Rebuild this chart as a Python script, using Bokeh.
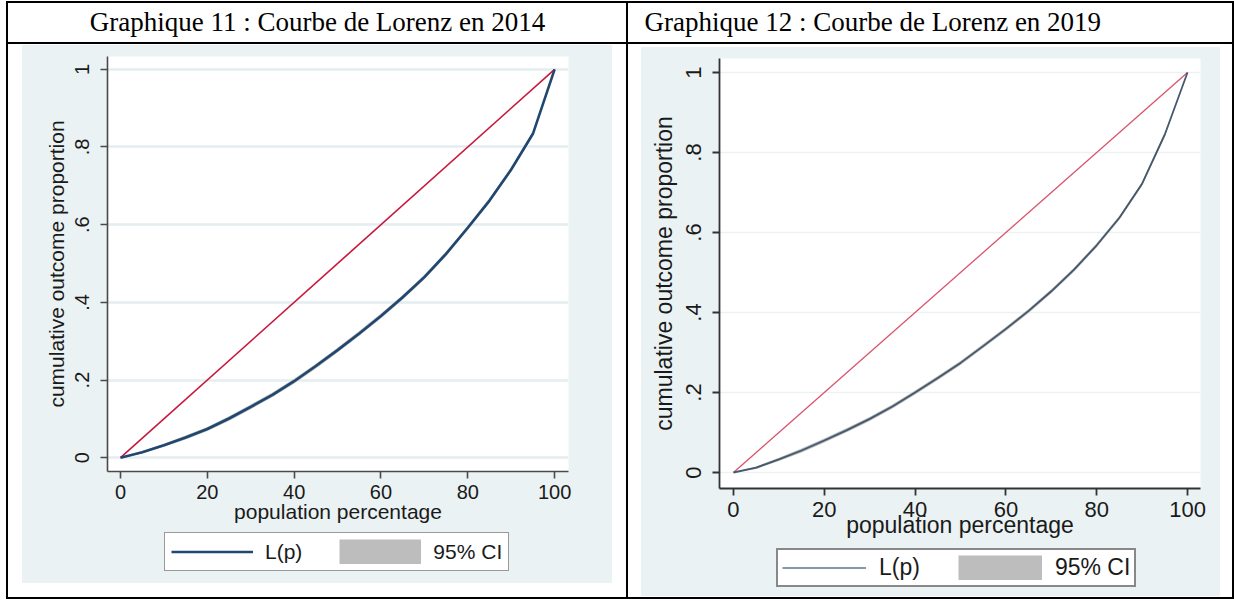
from bokeh.plotting import figure
from bokeh.models import Range1d, FixedTicker, Legend, LegendItem, Label, Div
from bokeh.layouts import column, row
from bokeh.embed import file_html
from bokeh.resources import INLINE

# ---------------- data ----------------
pop_pct = [0, 5, 10, 15, 20, 25, 30, 35, 40, 45, 50, 55, 60, 65, 70, 75, 80, 85, 90, 95, 100]

lorenz_2014 = [0, .014, .032, .052, .074, .101, .131, .162, .197, .236, .277, .320, .365, .413, .465, .525, .592, .662, .742, .834, 1]
ci_low_2014 = [0, .011, .028, .047, .069, .095, .125, .156, .191, .230, .271, .314, .359, .407, .459, .519, .586, .656, .736, .828, 1]
ci_high_2014 = [0, .017, .036, .057, .079, .107, .137, .168, .203, .242, .283, .326, .371, .419, .471, .531, .598, .668, .748, .840, 1]

lorenz_2019 = [0, .012, .033, .055, .080, .106, .134, .165, .200, .236, .274, .316, .359, .404, .453, .507, .568, .637, .722, .845, 1]
ci_low_2019 = [0, .009, .029, .050, .075, .101, .129, .160, .195, .231, .269, .311, .354, .399, .448, .502, .563, .632, .717, .840, 1]
ci_high_2019 = [0, .015, .037, .060, .085, .111, .139, .170, .205, .241, .279, .321, .364, .409, .458, .512, .573, .642, .727, .850, 1]

equality_x = [0, 100]
equality_y = [0, 1]

x_ticks = [0, 20, 40, 60, 80, 100]
y_ticks = [0, 0.2, 0.4, 0.6, 0.8, 1]
y_tick_labels = ["0", ".2", ".4", ".6", ".8", "1"]

titles = ["Graphique 11 : Courbe de Lorenz en 2014", "Graphique 12 : Courbe de Lorenz en 2019"]
x_title = "population percentage"
y_title = "cumulative outcome proportion"
legend_labels = ["L(p)", "95% CI"]

GREY = "#eaf2f3"
SANS = "Liberation Sans"
SERIF = "Liberation Serif"


def block(w, h, color):
    return Div(width=w, height=h, margin=0, styles={"background-color": color})


def header(text, w, h, align):
    p = figure(width=w, height=h, x_range=Range1d(0, 1), y_range=Range1d(0, 1),
               toolbar_location=None, output_backend="svg", min_border=0, title=None,
               outline_line_color=None, x_axis_type=None, y_axis_type=None,
               background_fill_color="white", border_fill_color="white")
    x = w / 2 if align == "center" else 16
    p.add_layout(Label(x=x, y=h / 2 + 1, x_units="screen", y_units="screen", text=text,
                       text_align=align, text_baseline="middle", text_font=SERIF,
                       text_font_size="27px", text_color="black"))
    return p


def chart(cfg, lor, lo, hi):
    p = figure(frame_width=cfg["fw"], frame_height=cfg["fh"],
               x_range=Range1d(*cfg["xr"]), y_range=Range1d(*cfg["yr"]),
               toolbar_location=None, output_backend="svg", title=None,
               min_border_left=cfg["bl"], min_border_right=cfg["br"],
               min_border_top=cfg["bt"], min_border_bottom=cfg["bb"],
               background_fill_color="white", border_fill_color=GREY,
               outline_line_color=None, margin=0)
    # grid
    p.xgrid.visible = False
    p.ygrid.ticker = FixedTicker(ticks=y_ticks)
    p.ygrid.grid_line_color = cfg["grid_color"]
    p.ygrid.grid_line_width = cfg["grid_w"]

    # axes
    p.xaxis.ticker = FixedTicker(ticks=x_ticks)
    p.yaxis.ticker = FixedTicker(ticks=y_ticks)
    p.yaxis.major_label_overrides = {v: s for v, s in zip(y_ticks, y_tick_labels)}
    p.yaxis.major_label_orientation = "vertical"
    for ax in (p.xaxis[0], p.yaxis[0]):
        ax.axis_line_color = cfg["axis_color"]
        ax.axis_line_width = cfg["axis_w"]
        ax.major_tick_line_color = cfg["axis_color"]
        ax.major_tick_line_width = cfg["axis_w"]
        ax.major_tick_out = 7
        ax.major_tick_in = 0
        ax.minor_tick_line_color = None
        ax.major_label_text_font = SANS
        ax.major_label_text_font_size = cfg["tick_fs"]
        ax.major_label_text_color = "#1a1a1a"
        ax.axis_label_text_font = SANS
        ax.axis_label_text_font_size = cfg["title_fs"]
        ax.axis_label_text_font_style = "normal"
        ax.axis_label_text_color = "#1a1a1a"
    p.xaxis.axis_label = x_title
    p.yaxis.axis_label = y_title
    p.xaxis.major_label_standoff = cfg["xstand"]
    p.yaxis.major_label_standoff = cfg["ystand"]
    p.xaxis.axis_label_standoff = cfg["xtstand"]
    p.yaxis.axis_label_standoff = cfg["ytstand"]

    # glyphs
    p.varea(x=pop_pct, y1=lo, y2=hi, fill_color="#b8b8b8")
    p.line(equality_x, equality_y, line_color=cfg["red"], line_width=cfg["red_w"])
    p.line(pop_pct, lor, line_color=cfg["curve"], line_width=cfg["curve_w"])
    return p


def legend_strip(cfg, lor, hi):
    # strip below the chart holding the legend; its data lies outside the strip's ranges
    q = figure(width=cfg["w"], height=cfg["lh"], x_range=Range1d(200, 300), y_range=Range1d(0, 1),
               toolbar_location=None, output_backend="svg", min_border=0, title=None,
               outline_line_color=None, x_axis_type=None, y_axis_type=None,
               background_fill_color=GREY, border_fill_color=GREY, margin=0)
    r_curve = q.line(pop_pct, lor, line_color=cfg["key_curve"], line_width=cfg["key_curve_w"])
    r_ci = q.line(pop_pct, hi, line_color="#bdbdbd", line_width=cfg["key_h"], line_cap="butt")
    leg = Legend(items=[LegendItem(label=legend_labels[0], renderers=[r_curve]),
                        LegendItem(label=legend_labels[1], renderers=[r_ci])],
                 location=cfg["leg_loc"], orientation="horizontal",
                 glyph_width=cfg["glyph_w"], glyph_height=cfg["key_h"],
                 label_height=cfg["key_h"],
                 label_standoff=cfg["leg_stand"], spacing=cfg["leg_spacing"],
                 padding=cfg["leg_pad"], margin=0,
                 label_text_font=SANS, label_text_font_size=cfg["leg_fs"],
                 label_text_color="#1a1a1a",
                 border_line_color=cfg["leg_border"], border_line_width=cfg["leg_bw"],
                 background_fill_color="white", background_fill_alpha=1.0)
    q.add_layout(leg)
    return q


cfg_left = dict(w=590, fw=461, fh=415, xr=(-3.0, 103.2), yr=(-0.0355, 1.033),
                bl=85, br=44, bt=11, bb=60, lh=52, cell_margin=(1, 14, 14, 14),
                grid_color="#e4edef", grid_w=2.5, axis_color="#4a4a4a", axis_w=1.6,
                tick_fs="20px", title_fs="21px", xstand=6, ystand=11, xtstand=-2, ytstand=5,
                red="#c8173d", red_w=1.6, curve="#1f4770", curve_w=2.6,
                key_curve="#1f4770", key_curve_w=2.6,
                key_h=25, glyph_w=82, leg_loc=(57, 12), leg_stand=12, leg_spacing=37,
                leg_pad=6, leg_fs="21px", leg_border="#333333", leg_bw=1.5)

cfg_right = dict(w=579, fw=481, fh=430, xr=(-3.08, 102.86), yr=(-0.04, 1.035),
                 bl=78, br=20, bt=11, bb=60, lh=48, cell_margin=(3, 12, 1, 13),
                 grid_color="#eef1f2", grid_w=1.5, axis_color="#333333", axis_w=1.8,
                 tick_fs="22px", title_fs="23px", xstand=6, ystand=12, xtstand=-8, ytstand=6,
                 red="#d8546e", red_w=1.3, curve="#45596e", curve_w=1.8,
                 key_curve="#5d7791", key_curve_w=1.5,
                 key_h=25, glyph_w=84, leg_loc=(57, 9), leg_stand=13, leg_spacing=38,
                 leg_pad=4, leg_fs="23px", leg_border="#111111", leg_bw=2)


def cell(cfg, lor, lo, hi):
    return column(chart(cfg, lor, lo, hi), legend_strip(cfg, lor, hi),
                  spacing=0, margin=cfg["cell_margin"], styles={"background-color": GREY})


h1 = header(titles[0], 618, 39, "center")
h2 = header(titles[1], 604, 39, "left")
c1 = cell(cfg_left, lorenz_2014, ci_low_2014, ci_high_2014)
c2 = cell(cfg_right, lorenz_2019, ci_low_2019, ci_high_2019)

table = column(
    block(1228, 2, "black"),
    row(block(2, 39, "black"), h1, block(2, 39, "black"), h2, block(2, 39, "black"), spacing=0),
    block(1228, 2, "black"),
    row(block(2, 553, "black"), c1, block(2, 553, "black"), c2, block(2, 553, "black"), spacing=0),
    block(1228, 2, "black"),
    spacing=0,
)

layout = column(
    block(1234, 1, "white"),
    row(block(6, 598, "white"), table, spacing=0),
    spacing=0,
)

open("out.html", "w").write(file_html(layout, INLINE))
